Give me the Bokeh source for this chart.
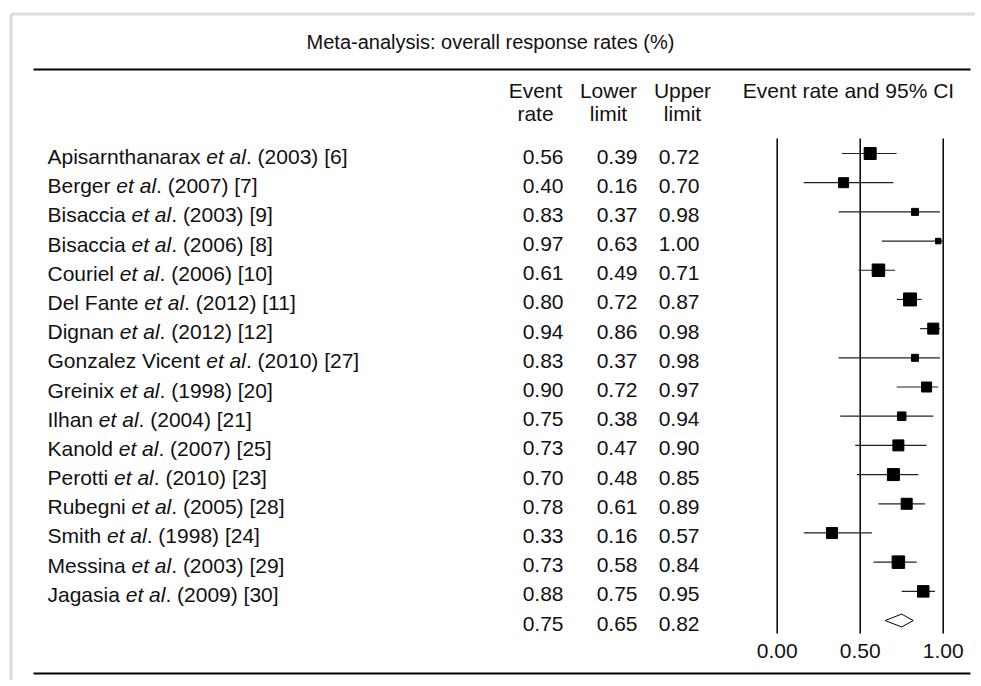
import numpy as np
from bokeh.plotting import figure
from bokeh.models import Range1d, ColumnDataSource
from bokeh.core.properties import value
from bokeh.embed import file_html
from bokeh.resources import INLINE

# ---------------- data ----------------
authors = ["Apisarnthanarax", "Berger", "Bisaccia", "Bisaccia", "Couriel",
           "Del Fante", "Dignan", "Gonzalez Vicent", "Greinix", "Ilhan",
           "Kanold", "Perotti", "Rubegni", "Smith", "Messina", "Jagasia"]
cites = ["(2003) [6]", "(2007) [7]", "(2003) [9]", "(2006) [8]", "(2006) [10]",
         "(2012) [11]", "(2012) [12]", "(2010) [27]", "(1998) [20]", "(2004) [21]",
         "(2007) [25]", "(2010) [23]", "(2005) [28]", "(1998) [24]", "(2003) [29]",
         "(2009) [30]"]
event_rate = [0.56, 0.40, 0.83, 0.97, 0.61, 0.80, 0.94, 0.83, 0.90, 0.75,
              0.73, 0.70, 0.78, 0.33, 0.73, 0.88]
lower_limit = [0.39, 0.16, 0.37, 0.63, 0.49, 0.72, 0.86, 0.37, 0.72, 0.38,
               0.47, 0.48, 0.61, 0.16, 0.58, 0.75]
upper_limit = [0.72, 0.70, 0.98, 1.00, 0.71, 0.87, 0.98, 0.98, 0.97, 0.94,
               0.90, 0.85, 0.89, 0.57, 0.84, 0.95]
weight = [12, 10, 7, 5.5, 12.5, 13, 11, 7, 10, 8.5, 11, 12, 11, 11, 12.5, 11.5]
summary_rate, summary_lower, summary_upper = 0.75, 0.65, 0.82
axis_ticks = [0.0, 0.5, 1.0]
axis_tick_labels = ["0.00", "0.50", "1.00"]
col_top = ["Event", "Lower", "Upper"]
col_bottom = ["rate", "limit", "limit"]
title_text = "Meta-analysis: overall response rates (%)"
plot_header = "Event rate and 95% CI"

# ---------------- layout helpers ----------------
FONT = "Liberation Sans"
FS = 21
W, H = 975, 680
ROW0, ROWH = 153.0, 29.19          # px of first row, row spacing
X0, XU = 776.7, 166.0              # px of rate 0, px per unit rate

# Arial/Helvetica advance widths (1/1000 em) to place italic "et al" parts
CW = {" ": 278, "(": 333, ")": 333, ".": 278, "[": 278, "]": 278,
      "A": 667, "B": 667, "C": 722, "D": 722, "E": 667, "F": 611, "G": 778,
      "H": 722, "I": 278, "J": 500, "K": 667, "L": 556, "M": 833, "N": 722,
      "O": 778, "P": 667, "R": 722, "S": 667, "T": 611, "U": 722, "V": 667,
      "a": 556, "b": 556, "c": 500, "d": 556, "e": 556, "f": 278, "g": 556,
      "h": 556, "i": 222, "j": 222, "k": 500, "l": 222, "m": 833, "n": 556,
      "o": 556, "p": 556, "q": 556, "r": 333, "s": 500, "t": 278, "u": 556,
      "v": 500, "w": 722, "x": 500, "y": 500, "z": 500}
for d in "0123456789":
    CW[d] = 556


def tw(s, fs=FS):
    return sum(CW.get(c, 556) for c in s) * fs / 1000.0


p = figure(width=W, height=H, output_backend="svg", toolbar_location=None,
           x_range=Range1d(0, W), y_range=Range1d(H, 0), min_border=0,
           x_axis_location=None, y_axis_location=None)
p.grid.visible = False
p.outline_line_color = None
p.background_fill_color = "white"
p.border_fill_color = "white"
p.extra_x_ranges = {"rate": Range1d(-X0 / XU, (W - X0) / XU)}
p.extra_y_ranges = {"row": Range1d((H - ROW0) / ROWH, -ROW0 / ROWH)}

# outer light frame
p.multi_line(xs=[[10.5, 10.5], [10.5, W]], ys=[[H, 13.5], [13.5, 13.5]],
             line_color="#dcdcdc", line_width=3)

# horizontal rules
p.segment(x0=[33, 33], x1=[970, 970], y0=[69, 673], y1=[69, 673],
          line_color="black", line_width=2)

txt = dict(text_font=value(FONT), text_font_size=f"{FS}px",
           text_baseline="middle", text_color="#111111")

# title and headers
p.text(x=[490], y=[41], text=[title_text], text_align="center",
       **{**txt, "text_font_size": "20px"})
p.text(x=[848], y=[90], text=[plot_header], text_align="center", **txt)

hdr_x = [535, 608, 682]
p.text(x=hdr_x, y=[90] * 3, text=col_top, text_align="center", **txt)
p.text(x=hdr_x, y=[113] * 3, text=col_bottom, text_align="center", **txt)

n = len(authors)
rows = list(range(n))
sum_row = n

# study names with italic "et al"
pre = [a + " " for a in authors]
suf = [". " + c for c in cites]
off_it = [tw(s) for s in pre]
off_suf = [tw(s) + tw("et al") for s in pre]
name_src = ColumnDataSource(dict(x=[47] * n, y=rows, pre=pre, it=["et al"] * n,
                                 suf=suf, o1=off_it, o2=off_suf))
common = dict(y_range_name="row", y_offset=3, **txt)
p.text(x="x", y="y", text="pre", source=name_src, **common)
p.text(x="x", y="y", text="it", x_offset="o1", source=name_src,
       text_font_style="italic", **common)
p.text(x="x", y="y", text="suf", x_offset="o2", source=name_src, **common)

# numeric columns
all_rows = rows + [sum_row]
ev = event_rate + [summary_rate]
lo = lower_limit + [summary_lower]
up = upper_limit + [summary_upper]
for xr, vals in zip([563, 637, 699], [ev, lo, up]):
    p.text(x=[xr] * len(vals), y=all_rows, text=[f"{v:.2f}" for v in vals],
           text_align="right", **common)

# forest: reference lines
p.segment(x0=axis_ticks, x1=axis_ticks, y0=[138] * 3, y1=[633] * 3,
          x_range_name="rate", line_color="black", line_width=1.5)
p.text(x=axis_ticks, y=[650] * 3, text=axis_tick_labels, x_range_name="rate",
       text_align="center", **txt)

# confidence intervals and point estimates
p.segment(x0=lower_limit, x1=upper_limit, y0=rows, y1=rows,
          x_range_name="rate", y_range_name="row",
          line_color="#222222", line_width=1.2)
p.scatter(x=event_rate, y=rows, size=weight, marker="square",
          x_range_name="rate", y_range_name="row",
          fill_color="black", line_color="black")

# summary diamond
p.patch(x=[summary_lower, summary_rate, summary_upper, summary_rate],
        y=[sum_row, sum_row - 0.22, sum_row, sum_row + 0.22],
        x_range_name="rate", y_range_name="row",
        fill_color="white", line_color="black", line_width=1)

open("out.html", "w").write(file_html(p, INLINE))
